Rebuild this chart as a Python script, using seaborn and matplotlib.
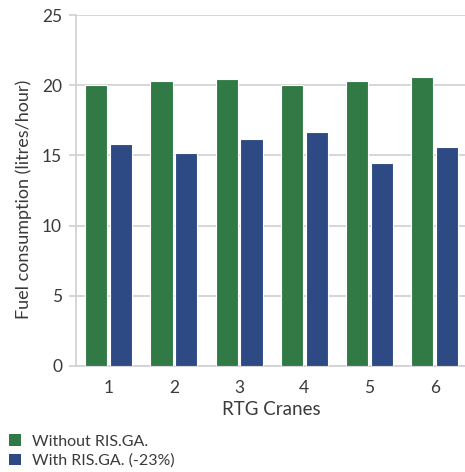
import matplotlib
matplotlib.use("Agg")
import matplotlib.pyplot as plt
import seaborn as sns
import pandas as pd
from matplotlib.patches import Patch

cranes = ["1", "2", "3", "4", "5", "6"]
without_risga = [20.03, 20.32, 20.44, 20.03, 20.32, 20.56]
with_risga = [15.81, 15.19, 16.19, 16.69, 14.44, 15.58]
series_names = ["Without RIS.GA.", "With RIS.GA. (-23%)"]
y_ticks = [0, 5, 10, 15, 20, 25]

sns.set_theme(style="white")
plt.rcParams["font.family"] = ["Lato", "DejaVu Sans"]

df = pd.DataFrame({
    "crane": cranes * 2,
    "value": without_risga + with_risga,
    "series": [series_names[0]] * len(cranes) + [series_names[1]] * len(cranes),
})

green = "#317a45"
blue = "#2d4a84"
text_c = "#3a3a3a"
grid_c = "#cfcfd4"

fig = plt.figure(figsize=(4.65, 4.72), dpi=100)
ax = fig.add_axes([76 / 465, 1 - 366 / 472, (465 - 76) / 465 + 0.005, (366 - 15) / 472])

sns.barplot(data=df, x="crane", y="value", hue="series", order=cranes,
            hue_order=series_names, palette=[green, blue], saturation=1,
            width=0.76, gap=0.1, edgecolor="white", linewidth=0.8, ax=ax,
            legend=False, zorder=3)

ax.set_ylim(0, 25)
ax.set_xlim(-0.5, 5.5)
ax.set_yticks(y_ticks)
ax.set_yticklabels([str(t) for t in y_ticks], fontsize=12.5, color=text_c)
ax.yaxis.grid(True, color=grid_c, linewidth=1.2, zorder=0)
ax.set_axisbelow(True)

ax.set_xticks(range(len(cranes)))
ax.set_xticklabels(cranes, fontsize=12.5, color=text_c)
ax.tick_params(axis="x", which="major", length=0, pad=10)
ax.set_xticks([i - 0.5 for i in range(len(cranes) + 1)], minor=True)
ax.tick_params(axis="x", which="minor", length=6, width=1.2, color=grid_c, direction="out")
ax.tick_params(axis="y", which="major", length=5, width=1.2, color=grid_c, direction="out", pad=5, left=True)

for s in ["top", "right"]:
    ax.spines[s].set_visible(False)
ax.spines["left"].set_color(grid_c)
ax.spines["left"].set_linewidth(1.2)
ax.spines["bottom"].set_color(grid_c)
ax.spines["bottom"].set_linewidth(1.2)

ax.set_xlabel("RTG Cranes", fontsize=13.5, color=text_c, labelpad=4)
ax.set_ylabel("Fuel consumption (litres/hour)", fontsize=13, color=text_c)
ax.yaxis.set_label_coords(-0.113, 0.475)

handles = [Patch(facecolor=green, edgecolor="none"), Patch(facecolor=blue, edgecolor="none")]
fig.legend(handles, series_names, loc="lower left", bbox_to_anchor=(-0.012, -0.022),
           frameon=False, fontsize=11.5, handlelength=0.75, handleheight=0.75,
           handletextpad=0.7, labelspacing=0.3, labelcolor=text_c)

fig.savefig("out.png", dpi=100)
